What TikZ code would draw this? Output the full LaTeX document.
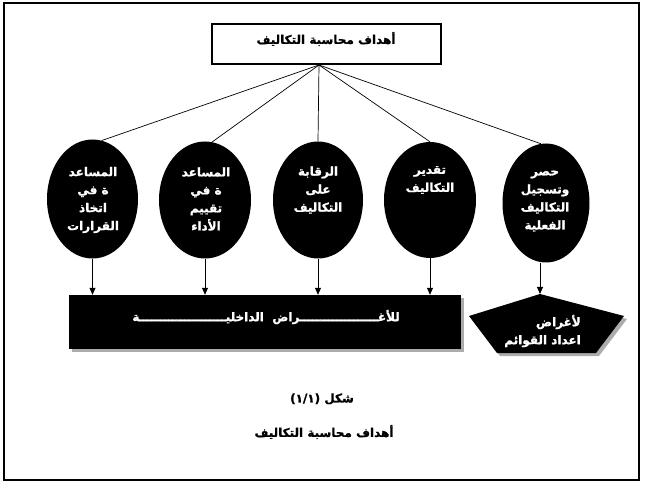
\documentclass[tikz,border=0pt]{standalone}
\usepackage{fontspec}
\newfontfamily\arfont[Script=Arabic,BoldFeatures={FakeBold=1.2}]{DejaVu Sans}
\TeXXeTstate=1
\usetikzlibrary{arrows.meta,shadows,shapes.geometric}
\newcommand\artxt[1]{\beginR#1\endR}
\tikzset{
  artext/.style={font=\arfont\bfseries\fontsize{12}{18}\selectfont, inner sep=0pt},
  whitetext/.style={artext, text=white, align=center},
  blackoval/.style={ellipse, fill=black, draw=none, inner sep=0pt},
  spoke/.style={line width=0.7pt},
  downarrow/.style={line width=0.8pt, -{Triangle[length=7pt,width=6pt]}},
  shadowed/.style={drop shadow={shadow xshift=3pt, shadow yshift=-3pt, fill=gray!65, opacity=1}}
}
\begin{document}
\begin{tikzpicture}[x=1pt,y=-1pt]
\useasboundingbox (0,0) rectangle (657,484);
% outer frame
\draw[line width=1.4pt] (4,3) rectangle (639,480);
% title box
\node[draw, line width=1.1pt, minimum width=229pt, minimum height=40pt, inner sep=0pt] (title) at (326.5,44) {};
\node[artext] (ttl) at (326,39) {\artxt{أهداف محاسبة التكاليف}};
\coordinate (hub) at (319,65);
% ellipses
\node[blackoval, minimum width=91pt, minimum height=119pt] (e1) at (92.5,199) {};
\node[blackoval, minimum width=92pt, minimum height=117pt] (e2) at (205,200) {};
\node[blackoval, minimum width=90pt, minimum height=117pt] (e3) at (318,200) {};
\node[blackoval, minimum width=92pt, minimum height=116pt] (e4) at (430,200) {};
\node[blackoval, minimum width=87pt, minimum height=119pt] (e5) at (546,203) {};
% ellipse texts
\node[whitetext] (t1) at (93,200) {\artxt{المساعد}\\\artxt{ة في}\\\artxt{اتخاذ}\\\artxt{القرارات}};
\node[whitetext] (t2) at (206,199) {\artxt{المساعد}\\\artxt{ة في}\\\artxt{تقييم}\\\artxt{الأداء}};
\node[whitetext] (t3) at (318,190) {\artxt{الرقابة}\\\artxt{على}\\\artxt{التكاليف}};
\node[whitetext] (t4) at (430,180) {\artxt{تقدير}\\\artxt{التكاليف}};
\node[whitetext] (t5) at (545,201) {\artxt{حصر}\\\artxt{وتسجيل}\\\artxt{التكاليف}\\\artxt{الفعلية}};
% spokes
\draw[spoke] (hub) -- (e1.81);
\draw[spoke] (hub) -- (e2.83);
\draw[spoke] (hub) -- (e3.north);
\draw[spoke] (hub) -- (e4.north);
\draw[spoke] (hub) -- (e5.95);
% bottom rectangle
\node[fill=black, shadowed, minimum width=392pt, minimum height=54pt, inner sep=0pt] (r) at (265,322) {};
\node[artext, text=white] (rt) at (266,317) {\artxt{للأغـــــــــــــــــــراض\ \ الداخليـــــــــــــــــــــة}};
% pentagon
\coordinate (pent) at (540,294);
\fill[black, shadowed] (pent) -- (624,316) -- (596,353) -- (497,353) -- (469,316) -- cycle;
\node[artext, text=white, align=right, anchor=east] (pt) at (581,331) {\artxt{لأغراض}\\\artxt{اعداد القوائم}};
% arrows
\draw[downarrow] (e1.south) -- (e1.south |- r.north);
\draw[downarrow] (e2.south) -- (e2.south |- r.north);
\draw[downarrow] (e3.south) -- (e3.south |- r.north);
\draw[downarrow] (e4.south) -- (e4.south |- r.north);
\draw[downarrow] (e5.south -| pent) -- (pent);
% captions
\node[artext] (cap1) at (322,399) {\artxt{شكل (١/١)}};
\node[artext] (cap2) at (324,432) {\artxt{أهداف محاسبة التكاليف}};
\end{tikzpicture}
\end{document}
